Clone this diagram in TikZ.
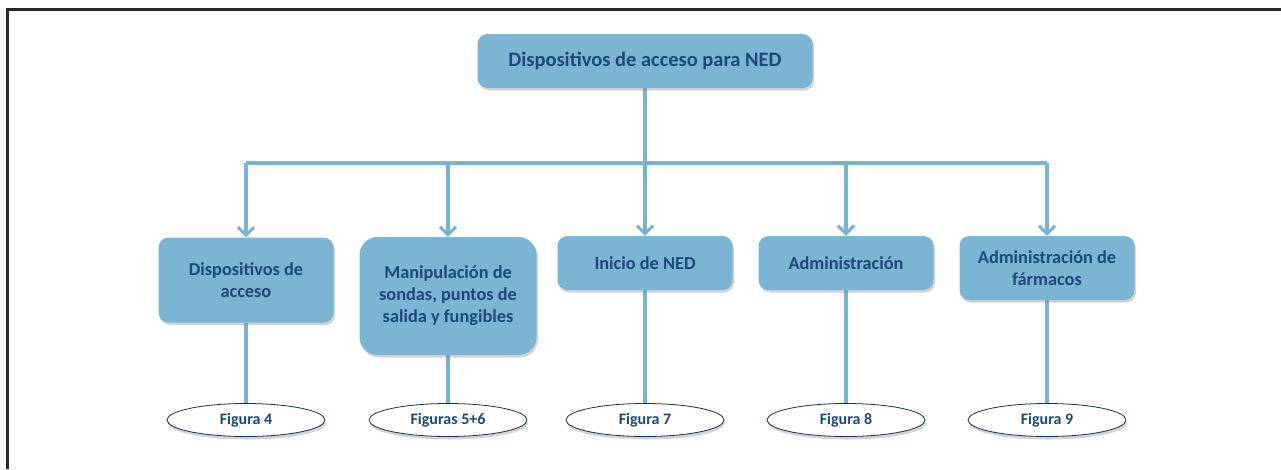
\documentclass[tikz,border=0pt]{standalone}
\usepackage{fontspec}
\setmainfont{Carlito}
\usepackage{tikz}
\usetikzlibrary{arrows.meta,shadows,shapes.geometric,backgrounds}

\definecolor{boxblue}{RGB}{124,181,212}
\definecolor{lineblue}{RGB}{122,178,210}
\definecolor{textblue}{RGB}{30,72,120}

\begin{document}
\begin{tikzpicture}[x=1pt,y=-1pt,
    area/.style={draw=none,fill=boxblue,rounded corners=10pt,align=center,
      text=textblue,font=\bfseries\fontsize{18.3}{22}\selectfont,inner sep=0pt,
      minimum width=175pt,drop shadow={shadow xshift=1.5pt,shadow yshift=-2.5pt,opacity=0.35}},
    fig/.style={draw=textblue!70!black,line width=0.8pt,ellipse,fill=white,text=textblue,
      font=\bfseries\fontsize{16}{18}\selectfont,minimum width=158pt,minimum height=33pt,
      inner sep=0pt,drop shadow={shadow xshift=1pt,shadow yshift=-3pt,opacity=0.35}},
    link/.style={draw=lineblue,line width=3.5pt},
    down/.style={link,-{Straight Barb[length=8pt,width=16pt,line width=3pt]}}]
  \useasboundingbox (0,0) rectangle (1281,469);
  % frame
  \draw[line width=3pt,black!85] (1281,9) -- (7,9) -- (7,469);

  \node[area,minimum width=335pt,minimum height=54pt,font=\bfseries\fontsize{20.5}{24}\selectfont] (top) at (645,61) {Dispositivos de acceso para NED};

  \node[area,minimum height=85pt] (acc) at (246,280) {Dispositivos de\\acceso};
  \node[area,minimum width=177pt,minimum height=118pt,rounded corners=18pt] (man) at (448,296) {Manipulaci\'on de\\sondas, puntos de\\salida y fungibles};
  \node[area,minimum height=54pt] (ini) at (645,263) {Inicio de NED};
  \node[area,minimum height=54pt] (adm) at (846,263) {Administraci\'on};
  \node[area,minimum height=64pt] (far) at (1047,268) {Administraci\'on de\\f\'armacos};

  \node[fig] (f4) at (246,420) {Figura 4};
  \node[fig] (f56) at (448,420) {Figuras 5+6};
  \node[fig] (f7) at (645,420) {Figura 7};
  \node[fig] (f8) at (846,420) {Figura 8};
  \node[fig] (f9) at (1047,420) {Figura 9};

  \coordinate (hub) at (645,163);
  \coordinate (left) at (acc |- hub);
  \coordinate (right) at (far |- hub);

  \begin{scope}[on background layer]
  \draw[link] (top) -- (hub);
  \draw[link] (left) -- (right);
  \foreach \n in {acc,man,ini,adm,far}
    \draw[down] (\n |- hub) -- (\n.north);
  \draw[link] (acc) -- (f4);
  \draw[link] (man) -- (f56);
  \draw[link] (ini) -- (f7);
  \draw[link] (adm) -- (f8);
  \draw[link] (far) -- (f9);
  \end{scope}
\end{tikzpicture}
\end{document}
